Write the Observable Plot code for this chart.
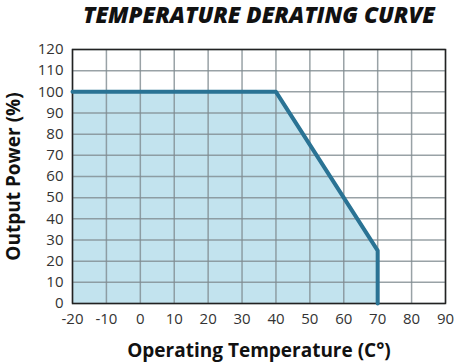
<!DOCTYPE html>
<html>
<head>
<meta charset="utf-8">
<script src="https://cdn.jsdelivr.net/npm/d3@7"></script>
<script src="https://cdn.jsdelivr.net/npm/@observablehq/plot@0.6"></script>
<style>
  html, body { margin: 0; padding: 0; background: #fff; }
  #chart { width: 456px; height: 362px; }
  svg { font-family: "Open Sans", sans-serif; }
</style>
</head>
<body>
<div id="chart"></div>
<script>
const title = "TEMPERATURE DERATING CURVE";
const xLabel = "Operating Temperature (C°)";
const yLabel = "Output Power (%)";
const temperature = [-20, 40, 70, 70];
const outputPower = [100, 100, 25, 0];
const xTicks = [-20, -10, 0, 10, 20, 30, 40, 50, 60, 70, 80, 90];
const yTicks = [0, 10, 20, 30, 40, 50, 60, 70, 80, 90, 100, 110, 120];

const data = temperature.map((t, i) => ({t, p: outputPower[i]}));

const chart = Plot.plot({
  width: 456,
  height: 362,
  marginLeft: 72,
  marginRight: 11,
  marginTop: 49,
  marginBottom: 59,
  style: {fontFamily: "'Open Sans', sans-serif", background: "#fff"},
  x: {domain: [-20, 90], ticks: xTicks},
  y: {domain: [0, 120], ticks: yTicks},
  marks: [
    Plot.areaY(data, {x: "t", y: "p", fill: "#c2e3ee"}),
    Plot.gridX(xTicks, {stroke: "#7f8b90", strokeOpacity: 0.8, strokeWidth: 1.5}),
    Plot.gridY(yTicks, {stroke: "#7f8b90", strokeOpacity: 0.8, strokeWidth: 1.5}),
    Plot.frame({stroke: "#222", strokeWidth: 1.5}),
    Plot.line(data, {x: "t", y: "p", stroke: "#2a7394", strokeWidth: 4}),
    Plot.axisX(xTicks, {tickSize: 0, tickPadding: 10, fontSize: 15, fill: "#333",
      tickFormat: d => String(d),
      label: xLabel, labelAnchor: "center", labelArrow: "none", labelOffset: 53}),
    Plot.axisY(yTicks, {tickSize: 0, tickPadding: 9, fontSize: 15, fill: "#333",
      tickFormat: d => String(d),
      label: yLabel, labelAnchor: "center", labelArrow: "none", labelOffset: 66}),
    Plot.text([title], {frameAnchor: "top", dy: -42, text: d => d, fontSize: 22.5,
      fontWeight: 800, fontStyle: "italic", fill: "#111"})
  ]
});
document.getElementById("chart").appendChild(chart);
chart.querySelectorAll("g[aria-label='x-axis label'] text, g[aria-label='y-axis label'] text").forEach(t => {
  t.setAttribute("font-size", 19);
  t.setAttribute("font-weight", 700);
  t.setAttribute("fill", "#111");
});
</script>
</body>
</html>
